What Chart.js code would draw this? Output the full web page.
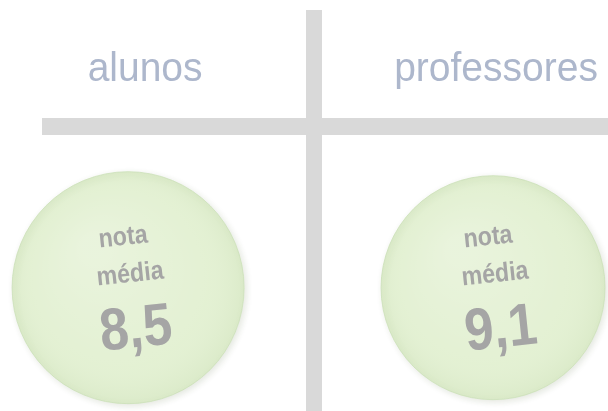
<!DOCTYPE html>
<html><head><meta charset="utf-8">
<script src="https://cdn.jsdelivr.net/npm/chart.js@4/dist/chart.umd.min.js"></script>
<style>html,body{margin:0;padding:0;background:#fff;} #wrap{width:608px;height:411px;position:relative}</style>
</head><body><div id="wrap"><canvas id="c"></canvas></div>
<script>
const groups = ['alunos', 'professores'];
const notas = [8.5, 9.1];
const noteLabel = ['nota', 'média'];

const FONT = '"Liberation Sans", Arial, sans-serif';
const fmt = v => v.toFixed(1).replace('.', ',');

const decor = {
  id: 'decor',
  beforeDatasetsDraw(chart) {
    const ctx = chart.ctx;
    ctx.save();
    ctx.fillStyle = '#d9d9d9';
    ctx.fillRect(306, 10, 16, 401);
    ctx.fillRect(42, 118, 566, 17);
    ctx.fillStyle = '#adb7cc';
    ctx.font = '39px ' + FONT;
    ctx.textAlign = 'center';
    ctx.textBaseline = 'alphabetic';
    const meta = chart.getDatasetMeta(0);
    const hx = [17, 3];
    meta.data.forEach((el, i) => {
      ctx.save();
      ctx.translate(el.x + hx[i], 81);
      ctx.scale(1, 1.03);
      ctx.fillText(groups[i], 0, 0);
      ctx.restore();
    });
    ctx.restore();
    ctx.save();
    ctx.shadowColor = 'rgba(110,130,90,0.18)';
    ctx.shadowBlur = 6;
    ctx.shadowOffsetX = 2;
    ctx.shadowOffsetY = 2;
  },
  afterDatasetsDraw(chart) {
    const ctx = chart.ctx;
    ctx.restore();
    const meta = chart.getDatasetMeta(0);
    meta.data.forEach((el, i) => {
      const r = el.options.radius;
      ctx.save();
      const g = ctx.createRadialGradient(el.x - r * 0.3, el.y - r * 0.35, r * 0.1, el.x, el.y, r);
      g.addColorStop(0, 'rgba(255,255,255,0.25)');
      g.addColorStop(0.75, 'rgba(255,255,255,0.05)');
      g.addColorStop(1, 'rgba(170,195,145,0.12)');
      ctx.beginPath();
      ctx.arc(el.x, el.y, r, 0, Math.PI * 2);
      ctx.fillStyle = g;
      ctx.fill();
      ctx.restore();

      ctx.save();
      ctx.fillStyle = '#a5a5a5';
      ctx.textAlign = 'center';
      ctx.textBaseline = 'middle';
      const items = [
        [noteLabel[0], -5, -50, 'bold 25px ' + FONT],
        [noteLabel[1], 2, -13, 'bold 25px ' + FONT],
        [fmt(notas[i]), 8, 43, 'bold 56px ' + FONT]
      ];
      items.forEach(([t, dx, dy, f]) => {
        ctx.save();
        ctx.translate(el.x + dx, el.y + dy);
        ctx.rotate(-6 * Math.PI / 180);
        ctx.scale(0.93, 1.06);
        ctx.font = f;
        ctx.fillText(t, 0, 0);
        ctx.restore();
      });
      ctx.restore();
    });
  }
};

new Chart(document.getElementById('c'), {
  type: 'scatter',
  data: {
    datasets: [{
      data: groups.map((g, i) => ({ x: i, y: 0 })),
      pointRadius: [116, 112],
      pointHoverRadius: [116, 112],
      backgroundColor: '#e2f0d1',
      borderColor: 'rgba(210,228,192,0.9)',
      borderWidth: 1,
      clip: false
    }]
  },
  options: {
    responsive: true,
    maintainAspectRatio: false,
    animation: false,
    events: [],
    layout: { padding: 0, autoPadding: false },
    plugins: { legend: { display: false }, tooltip: { enabled: false } },
    scales: {
      x: { type: 'linear', display: false, min: -0.351, max: 1.315 },
      y: { type: 'linear', display: false, min: -0.3, max: 0.7 }
    }
  },
  plugins: [decor]
});
</script>
</body></html>
